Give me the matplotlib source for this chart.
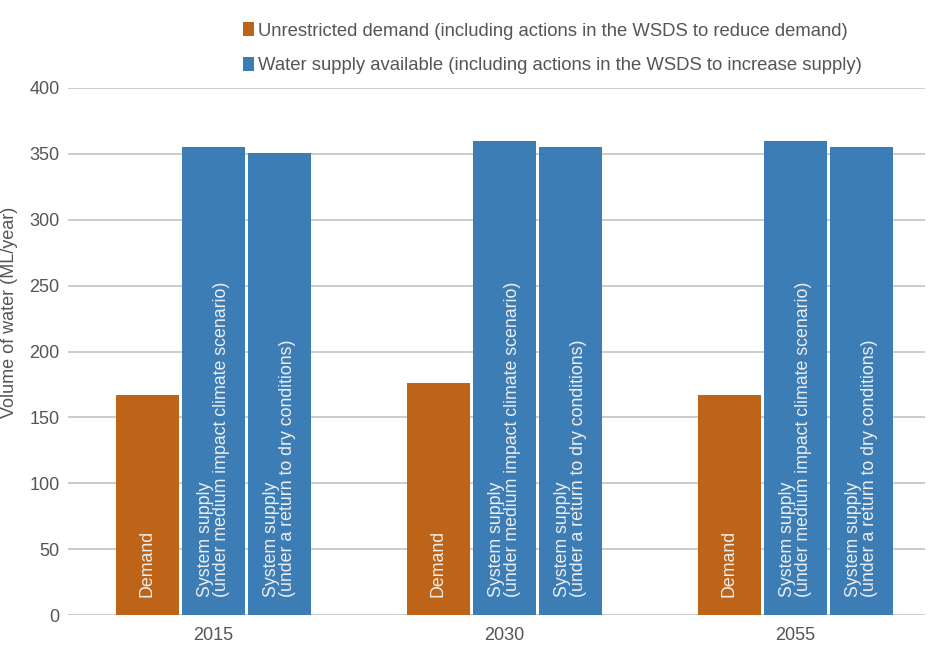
import matplotlib
matplotlib.use("Agg")
import matplotlib.pyplot as plt
from matplotlib.patches import Patch
import numpy as np

plt.rcParams['font.family'] = ['Liberation Sans', 'DejaVu Sans']

years = ["2015", "2030", "2055"]
demand = [167, 176, 167]
supply_medium = [355, 360, 360]
supply_dry = [351, 355, 355]
bar_labels = ["Demand",
              "System supply\n(under medium impact climate scenario)",
              "System supply\n(under a return to dry conditions)"]
legend_labels = ["Unrestricted demand (including actions in the WSDS to reduce demand)",
                 "Water supply available (including actions in the WSDS to increase supply)"]
yticks = [0, 50, 100, 150, 200, 250, 300, 350, 400]
ylabel = "Volume of water (ML/year)"

orange = "#BD6419"
blue = "#3D7DB6"
grey_text = "#555555"
grid_col = "#c4c4c4"

fig = plt.figure(figsize=(9.33, 6.46), dpi=100)
ax = fig.add_axes([68/933, (646-615)/646, (925-68)/933, (615-88)/646])

x = np.arange(len(years))
w = 0.218
step = 0.227
series = [demand, supply_medium, supply_dry]
colors = [orange, blue, blue]
for i, (vals, c) in enumerate(zip(series, colors)):
    xs = x + (i - 1) * step
    ax.bar(xs, vals, width=w, color=c, zorder=3)
    for xi in xs:
        ax.text(xi, 14, bar_labels[i], rotation=90, ha='center', va='bottom',
                color='#eeeeee', fontsize=12.8, multialignment='left',
                linespacing=0.88, zorder=4)

ax.set_ylim(0, 400)
ax.set_xlim(-0.5, 2.445)
ax.set_yticks(yticks)
ax.set_xticks(x)
ax.set_xticklabels(years)
ax.yaxis.grid(True, color=grid_col, lw=1.2, zorder=0)
ax.set_axisbelow(True)
for s in ax.spines.values():
    s.set_visible(False)
ax.tick_params(axis='both', length=0, labelsize=13, labelcolor=grey_text)
ax.tick_params(axis='y', pad=6)
ax.tick_params(axis='x', pad=9)

fig.text(1/933, 1 - 312/646, ylabel, rotation=90, ha='left', va='center',
         fontsize=13, color=grey_text)

handles = [Patch(facecolor=orange), Patch(facecolor=blue)]
fig.legend(handles, legend_labels, loc='upper left',
           bbox_to_anchor=(236/933, 1 - 15/646), frameon=False,
           fontsize=13.3, labelcolor=grey_text, handlelength=0.55,
           handleheight=0.75, handletextpad=0.25, labelspacing=0.95,
           borderaxespad=0)

fig.savefig("out.png", dpi=100)
